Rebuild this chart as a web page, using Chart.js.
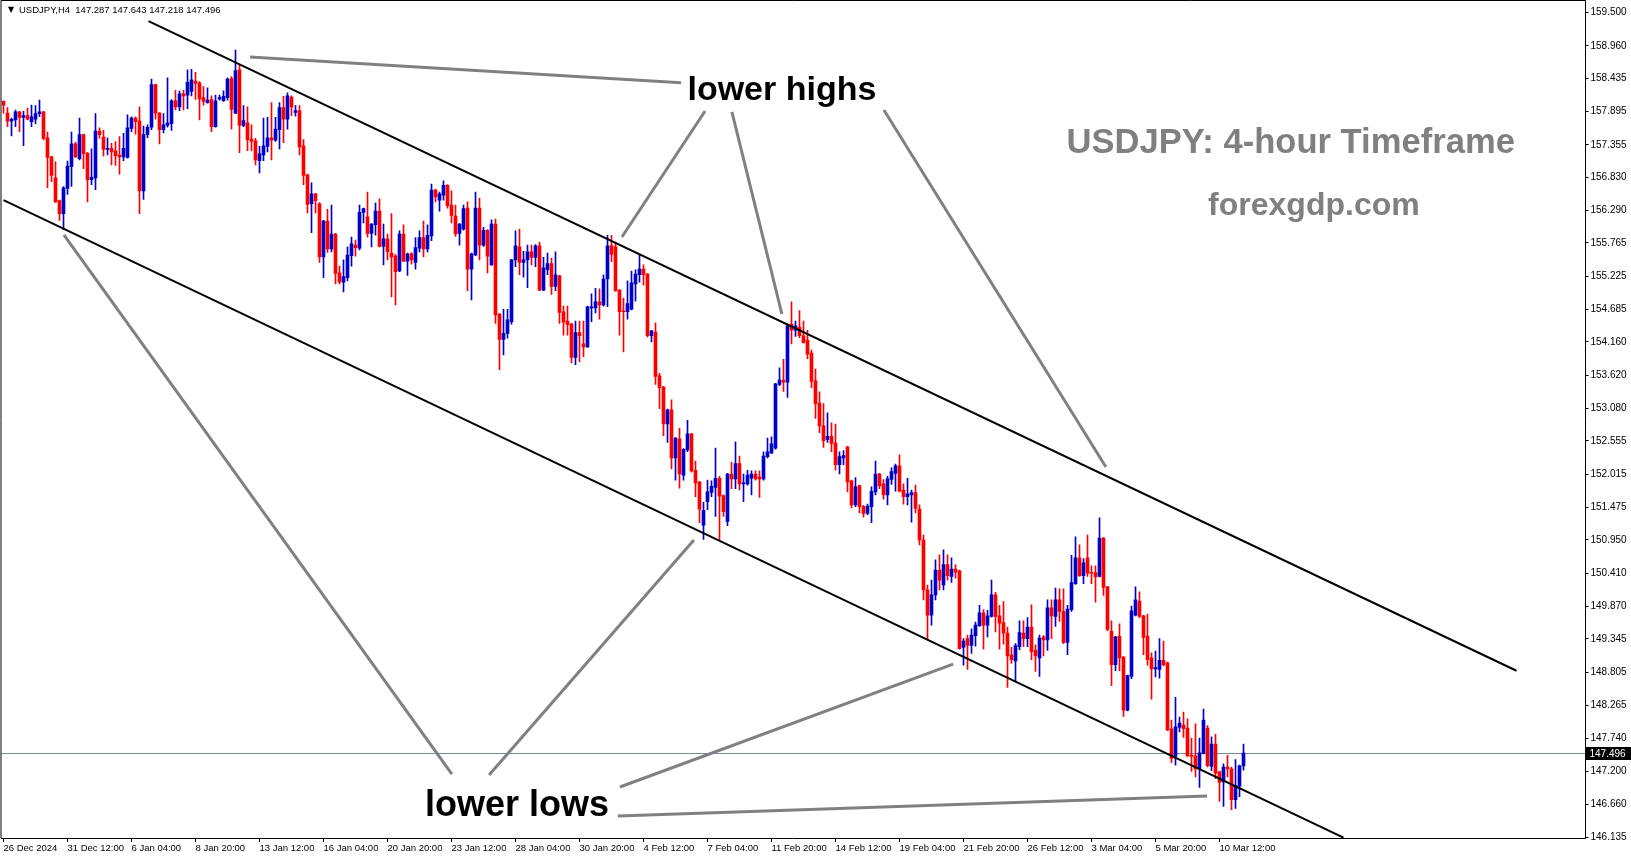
<!DOCTYPE html>
<html>
<head>
<meta charset="utf-8">
<script src="https://cdn.jsdelivr.net/npm/chart.js@4.4.1/dist/chart.umd.min.js"></script>
<style>
  html, body { margin: 0; padding: 0; background: #fff; }
  #wrap { width: 1631px; height: 861px; position: relative; }
</style>
</head>
<body>
<div id="wrap"><canvas id="chart"></canvas></div>
<script>
// --- USDJPY H4, 26 Dec 2024 -> 11 Mar 2025 (one entry per 4h candle) ---
const tickLabels = ['26 Dec 2024','31 Dec 12:00','6 Jan 04:00','8 Jan 20:00','13 Jan 12:00','16 Jan 04:00',
  '20 Jan 20:00','23 Jan 12:00','28 Jan 04:00','30 Jan 20:00','4 Feb 12:00','7 Feb 04:00','11 Feb 20:00',
  '14 Feb 12:00','19 Feb 04:00','21 Feb 20:00','26 Feb 12:00','3 Mar 04:00','5 Mar 20:00','10 Mar 12:00'];

const priceTicks = [159.500,158.960,158.435,157.895,157.355,156.830,156.290,155.765,155.225,154.685,154.160,
  153.620,153.080,152.555,152.015,151.475,150.950,150.410,149.870,149.345,148.805,148.265,147.740,147.200,
  146.660,146.135];

const opens = [
  158.06,157.87,157.74,157.76,157.89,157.80,157.83,157.73,157.77,157.86,
  157.89,157.47,157.16,156.82,156.45,156.24,156.65,157.00,157.37,157.13,
  157.52,157.22,156.79,156.82,157.58,157.48,157.28,157.30,157.26,157.19,
  157.16,157.15,157.62,157.79,157.74,156.61,157.52,157.64,158.33,157.87,
  157.60,157.67,157.70,158.07,157.97,158.18,158.16,158.22,158.39,158.36,
  158.12,158.04,158.09,157.65,158.10,158.07,158.12,158.43,157.87,158.57,
  157.67,157.71,157.45,157.42,157.10,157.19,157.33,157.47,157.43,157.60,
  157.96,157.77,158.13,157.88,157.91,157.34,156.87,156.40,156.56,156.40,
  155.54,156.12,155.67,155.91,155.28,155.13,155.20,155.56,155.73,155.68,
  156.26,156.19,155.92,156.06,156.28,155.71,155.83,155.60,155.55,155.31,
  155.91,155.47,155.59,155.45,155.68,155.85,155.67,155.88,156.62,156.46,
  156.54,156.70,156.38,156.20,155.92,155.99,156.33,155.34,155.57,156.33,
  155.73,155.97,155.41,156.07,154.61,154.20,154.30,154.49,155.49,155.70,
  155.45,155.49,155.62,155.53,155.72,155.00,155.33,155.43,155.06,155.23,
  154.65,154.50,154.45,153.91,154.31,154.13,154.08,154.71,154.71,154.81,
  154.76,155.18,155.72,155.70,155.00,154.66,154.65,154.69,155.10,155.25,
  155.34,155.26,154.26,154.32,153.61,153.43,152.83,153.06,152.28,152.59,
  152.00,152.41,152.67,152.08,151.89,151.19,151.57,151.72,151.80,151.95,
  151.67,151.25,152.02,151.94,152.19,151.86,151.86,151.95,152.02,151.97,
  151.94,152.30,152.36,152.44,153.47,153.54,153.51,154.45,154.35,154.40,
  154.26,154.19,153.98,153.53,153.17,152.80,152.58,152.63,152.52,152.17,
  152.28,152.46,151.91,151.52,151.83,151.49,151.38,151.49,151.73,152.02,
  151.86,151.68,151.93,152.03,152.15,151.76,151.65,151.68,151.72,151.45,
  150.95,150.14,149.73,150.06,150.46,150.22,150.55,150.36,150.48,150.45,
  149.21,149.35,149.24,149.40,149.56,149.77,149.57,149.71,150.06,149.72,
  149.61,149.44,149.09,148.99,149.22,149.44,149.35,149.54,149.16,149.04,
  149.38,149.33,149.85,149.71,149.98,149.79,149.29,149.82,150.24,150.66,
  150.37,150.66,150.42,150.42,150.36,150.98,150.19,149.47,148.93,149.39,
  149.05,148.19,148.74,149.73,149.96,149.72,149.39,149.04,148.86,148.85,
  149.00,148.96,147.89,147.44,147.91,147.95,147.90,147.46,147.45,147.24,
  147.49,147.90,147.28,147.64,147.19,147.03,147.27,147.24,146.74,146.96,
  147.287
];
const highs = [
  158.07,157.96,157.79,157.92,157.90,157.90,157.95,158.00,157.99,158.08,
  157.90,157.56,157.17,157.08,156.46,156.68,157.09,157.56,157.40,157.79,
  157.53,157.23,157.29,157.86,157.63,157.59,157.47,157.38,157.41,157.49,
  157.54,157.84,157.81,157.81,157.97,157.66,157.68,158.42,158.34,157.88,
  157.86,158.44,158.09,158.24,158.23,158.24,158.57,158.58,158.53,158.38,
  158.30,158.28,158.15,158.16,158.16,158.23,158.44,158.46,158.89,158.65,
  157.99,157.97,157.68,157.46,157.33,157.79,157.80,158.04,157.80,158.04,
  158.14,158.20,158.15,157.99,157.99,157.44,156.88,156.74,156.57,156.42,
  156.13,156.31,156.38,155.92,155.39,155.49,155.70,155.86,155.81,156.38,
  156.33,156.59,156.08,156.41,156.48,156.07,155.91,156.24,155.58,155.96,
  156.06,155.60,155.61,155.85,155.96,156.12,156.06,156.72,156.64,156.59,
  156.77,156.71,156.61,156.38,156.08,156.38,156.43,155.60,156.59,156.49,
  156.02,155.98,156.14,156.15,154.62,154.69,154.69,155.50,155.96,155.99,
  155.63,155.73,155.73,155.74,155.78,155.53,155.60,155.52,155.62,155.24,
  154.74,154.74,154.46,154.50,154.50,154.50,154.74,154.94,155.03,155.02,
  155.25,155.89,155.89,155.78,155.01,154.87,155.15,155.31,155.33,155.57,
  155.41,155.27,154.35,154.47,153.65,153.44,153.07,153.22,152.61,152.76,
  152.43,152.89,152.68,152.23,151.90,151.56,151.92,151.91,152.44,151.98,
  151.68,152.03,152.21,152.54,152.31,152.02,152.08,152.07,152.07,152.07,
  152.38,152.60,152.62,153.49,153.74,153.88,154.45,154.81,154.50,154.67,
  154.50,154.35,154.03,153.72,153.35,153.16,153.01,152.85,152.83,152.38,
  152.40,152.47,151.92,151.96,151.84,151.51,151.53,151.81,152.23,152.03,
  151.93,151.98,152.12,152.18,152.33,151.86,151.95,151.76,151.84,151.52,
  151.03,150.22,150.30,150.63,150.71,150.79,150.71,150.66,150.55,150.46,
  149.35,149.41,149.51,149.62,149.89,149.82,149.81,150.30,150.10,149.89,
  149.95,149.54,149.21,149.27,149.64,149.64,149.69,149.90,149.25,149.41,
  149.40,149.98,149.98,150.17,150.16,150.16,149.89,150.70,151.00,150.87,
  150.65,151.03,150.53,150.53,151.31,150.99,150.20,149.64,149.39,149.59,
  149.06,148.76,149.88,150.19,150.11,149.73,149.75,149.12,149.15,149.35,
  149.31,148.97,148.03,148.40,148.08,148.16,148.05,147.74,147.97,147.74,
  148.21,147.94,147.76,147.80,147.20,147.32,147.46,147.27,147.39,147.30,
  147.643
];
const lows = [
  157.87,157.65,157.50,157.65,157.57,157.34,157.76,157.65,157.70,157.81,
  157.44,156.66,156.76,156.42,156.13,155.98,156.55,156.68,157.15,157.11,
  156.97,156.43,156.71,156.63,157.46,157.17,157.19,157.03,157.02,156.88,
  157.10,157.14,157.57,157.53,156.24,156.47,157.47,157.60,157.77,157.37,
  157.55,157.64,157.59,157.92,157.91,157.92,157.94,158.15,158.09,157.76,
  158.00,158.03,157.57,157.64,158.08,158.06,158.08,157.61,157.86,157.23,
  157.65,157.26,157.26,157.03,156.90,157.10,157.24,157.11,157.41,157.29,
  157.39,157.61,157.83,157.82,157.19,156.71,156.25,155.93,156.25,155.45,
  155.20,155.61,155.62,155.10,155.10,154.97,155.15,155.39,155.55,155.65,
  156.09,155.86,155.70,155.89,155.70,155.41,155.49,154.89,154.76,155.30,
  155.46,155.24,155.42,155.34,155.62,155.54,155.62,155.80,156.43,156.28,
  156.46,156.33,156.09,155.87,155.73,155.97,154.99,154.84,155.56,155.49,
  155.71,155.28,155.40,154.46,153.71,153.95,154.22,154.45,155.38,155.25,
  155.21,155.04,155.41,155.38,154.99,154.99,155.25,154.93,154.99,154.46,
  154.27,154.27,153.82,153.79,153.84,153.92,154.07,154.49,154.63,154.53,
  154.74,154.73,155.46,154.98,154.27,154.00,154.53,154.68,154.82,155.13,
  155.08,154.24,154.16,153.47,153.08,152.64,152.53,152.10,151.92,151.79,
  151.92,152.38,152.05,151.65,151.23,150.96,151.44,151.65,151.33,150.96,
  151.33,151.18,151.78,151.78,151.76,151.57,151.84,151.68,151.92,151.64,
  151.92,152.28,152.35,152.42,153.45,153.36,153.26,154.13,154.25,154.23,
  154.14,153.89,153.42,152.92,152.69,152.45,152.53,152.38,152.08,152.02,
  152.17,151.73,151.47,151.49,151.39,151.32,151.36,151.23,151.68,151.78,
  151.61,151.52,151.85,151.74,151.73,151.53,151.52,151.24,151.39,150.87,
  149.98,149.33,149.57,149.98,150.14,150.14,150.30,150.26,150.33,149.18,
  148.92,148.85,149.11,149.23,149.55,149.18,149.38,149.70,149.46,149.18,
  149.26,148.56,148.95,148.67,149.17,149.22,149.22,149.01,148.82,148.74,
  149.07,149.16,149.35,149.55,149.63,149.27,149.09,149.79,150.23,150.36,
  150.24,150.36,150.24,149.94,150.35,150.05,149.48,148.59,148.83,148.83,
  148.09,148.18,148.70,149.72,149.69,149.09,148.92,148.37,148.73,148.71,
  148.91,147.86,147.34,147.30,147.84,147.75,147.44,147.20,147.11,146.94,
  147.48,147.27,147.21,147.08,146.71,146.63,147.11,146.58,146.60,146.79,
  147.218
];
const closes = [
  158.00,157.74,157.77,157.89,157.80,157.83,157.77,157.81,157.86,157.89,
  157.46,157.15,156.86,156.43,156.24,156.66,157.01,157.37,157.16,157.52,
  157.21,156.79,156.83,157.58,157.52,157.28,157.30,157.24,157.18,157.16,
  157.30,157.63,157.79,157.73,156.61,157.52,157.64,158.33,157.87,157.60,
  157.68,157.71,158.07,157.97,158.18,158.15,158.37,158.41,158.35,158.10,
  158.06,158.08,157.65,158.07,158.12,158.14,158.42,157.93,158.56,157.67,
  157.75,157.44,157.41,157.11,157.21,157.34,157.47,157.43,157.61,157.96,
  157.77,158.15,157.97,157.91,157.32,156.86,156.39,156.56,156.45,155.54,
  156.12,155.67,155.91,155.27,155.13,155.22,155.57,155.75,155.69,156.26,
  156.32,155.92,156.07,156.28,155.71,155.83,155.62,155.54,155.30,155.91,
  155.47,155.59,155.49,155.69,155.85,155.67,155.89,156.62,156.51,156.56,
  156.70,156.37,156.21,155.91,156.07,156.32,155.34,155.59,156.33,155.73,
  155.97,155.55,156.07,154.60,154.20,154.30,154.52,155.49,155.72,155.45,
  155.49,155.62,155.53,155.72,155.00,155.36,155.43,155.06,155.25,154.64,
  154.48,154.44,153.91,154.31,154.26,154.08,154.73,154.73,154.81,154.76,
  155.18,155.72,155.58,154.99,154.65,154.65,154.78,155.12,155.26,155.34,
  155.25,154.26,154.34,153.60,153.42,152.83,153.06,152.28,152.60,152.02,
  152.42,152.67,152.07,151.87,151.45,151.43,151.73,151.82,151.95,151.66,
  151.41,152.02,151.94,152.19,151.86,151.87,152.00,152.02,151.94,151.94,
  152.31,152.38,152.51,153.48,153.54,153.51,154.42,154.35,154.42,154.26,
  154.15,153.96,153.52,153.16,152.80,152.56,152.63,152.51,152.17,152.30,
  152.32,151.89,151.52,151.81,151.49,151.38,151.50,151.74,152.02,151.83,
  151.68,151.94,152.06,152.15,151.74,151.65,151.70,151.72,151.46,150.95,
  150.14,149.73,150.06,150.46,150.30,150.55,150.37,150.48,150.43,149.19,
  149.31,149.24,149.41,149.57,149.77,149.57,149.72,150.06,149.71,149.60,
  149.44,149.07,149.01,149.24,149.45,149.35,149.54,149.14,149.07,149.36,
  149.33,149.85,149.72,149.98,149.79,149.29,149.83,150.26,150.66,150.37,
  150.58,150.41,150.41,150.35,150.98,150.18,149.50,148.93,149.38,149.04,
  148.19,148.75,149.80,149.98,149.71,149.37,149.01,148.86,148.88,149.00,
  148.93,147.87,147.41,147.92,147.98,147.89,147.45,147.44,147.24,147.50,
  148.03,147.29,147.64,147.17,147.02,147.27,147.24,146.74,146.97,147.29,
  147.496
];

// drawn objects (candle index, price)
const channelLines = [
  [36.25, 159.36, 378.25, 148.83],
  [0, 156.46, 335, 146.125]
];
const pointerLines = [
  [61.6, 158.779, 169.4, 158.36],
  [175.4, 157.904, 154.6, 155.861],
  [182.1, 157.888, 194.6, 154.613],
  [220.1, 157.920, 275.6, 152.133],
  [15.1, 155.894, 112.1, 147.156],
  [121.4, 147.140, 172.6, 150.950],
  [154.1, 146.946, 237.4, 148.939],
  [153.6, 146.475, 300.9, 146.800]
];
const notes = [
  { text: 'lower highs', idx: 194.6, price: 158.075, font: 'bold 34px "Liberation Sans", Arial, sans-serif', color: '#000' },
  { text: 'lower lows', idx: 128.4, price: 146.47, font: 'bold 36px "Liberation Sans", Arial, sans-serif', color: '#000' },
  { text: 'USDJPY: 4-hour Timeframe', idx: 321.8, price: 157.22, font: 'bold 34.6px "Liberation Sans", Arial, sans-serif', color: '#808080' },
  { text: 'forexgdp.com', idx: 327.6, price: 156.215, font: 'bold 32px "Liberation Sans", Arial, sans-serif', color: '#808080' }
];

const SLOTS = 396;      // chart keeps empty space on the right (chart shift)
const TICK_STEP = 16;
const BLUE = '#0000cd', RED = '#ff0000';
const FONT = '"Liberation Sans", "DejaVu Sans", sans-serif';

const slotLabels = Array.from({ length: SLOTS }, (_, i) =>
  (i % TICK_STEP === 0 && tickLabels[i / TICK_STEP]) || '');
const tickIdx = tickLabels.map((_, i) => i * TICK_STEP);
const candleColors = closes.map((c, i) => (c >= opens[i] ? BLUE : RED));
const wickData = highs.map((h, i) => [lows[i], h]);
const bodyData = opens.map((o, i) => [o, closes[i]]);
const last = closes.length - 1;

const overlay = {
  id: 'overlay',
  beforeDatasetsDraw(chart) {
    const { ctx, chartArea: a, scales: { y } } = chart;
    const py = Math.round(y.getPixelForValue(closes[last])) + 0.5;
    ctx.save();
    ctx.strokeStyle = '#778899';
    ctx.lineWidth = 1;
    ctx.beginPath(); ctx.moveTo(a.left, py); ctx.lineTo(a.right, py); ctx.stroke();
    ctx.restore();
  },
  afterDatasetsDraw(chart) {
    const { ctx, chartArea: a, scales: { x, y } } = chart;
    ctx.save();
    ctx.beginPath(); ctx.rect(a.left, a.top, a.right - a.left, a.bottom - a.top); ctx.clip();
    const seg = (l, color, w) => {
      ctx.strokeStyle = color; ctx.lineWidth = w; ctx.lineCap = 'butt';
      ctx.beginPath();
      ctx.moveTo(x.getPixelForValue(l[0]), y.getPixelForValue(l[1]));
      ctx.lineTo(x.getPixelForValue(l[2]), y.getPixelForValue(l[3]));
      ctx.stroke();
    };
    channelLines.forEach(l => seg(l, '#000', 2));
    pointerLines.forEach(l => seg(l, '#808080', 3));
    ctx.textAlign = 'center';
    ctx.textBaseline = 'alphabetic';
    for (const n of notes) {
      ctx.font = n.font; ctx.fillStyle = n.color;
      ctx.fillText(n.text, x.getPixelForValue(n.idx), y.getPixelForValue(n.price));
    }
    ctx.restore();
  },
  afterDraw(chart) {
    const { ctx, chartArea: a, scales: { y } } = chart;
    ctx.save();
    // frame
    ctx.strokeStyle = '#000'; ctx.lineWidth = 1;
    ctx.beginPath();
    ctx.moveTo(a.left - 0.5, a.bottom); ctx.lineTo(a.left - 0.5, 0.5); ctx.lineTo(a.right, 0.5);
    ctx.stroke();
    // bid label on the price axis
    const py = Math.round(y.getPixelForValue(closes[last]));
    ctx.fillStyle = '#000';
    ctx.fillRect(a.right, py - 6, chart.width - a.right, 13);
    ctx.fillStyle = '#fff';
    ctx.font = '10px ' + FONT;
    ctx.textBaseline = 'middle';
    ctx.fillText(closes[last].toFixed(3), a.right + 4, py + 1);
    // header
    ctx.fillStyle = '#000';
    ctx.font = '8px "DejaVu Sans", sans-serif';
    ctx.fillText('\u25BC', 8, 10);
    ctx.font = '9.5px ' + FONT;
    const hdr = 'USDJPY,H4  ' + [opens[last], highs[last], lows[last], closes[last]].map(v => v.toFixed(3)).join(' ');
    ctx.fillText(hdr, 19, 10);
    ctx.restore();
  }
};

new Chart(document.getElementById('chart'), {
  type: 'bar',
  data: {
    labels: slotLabels,
    datasets: [
      { data: bodyData, backgroundColor: candleColors, barThickness: 3, minBarLength: 1, grouped: false, order: 1, borderWidth: 0 },
      { data: wickData, backgroundColor: candleColors, barThickness: 1, grouped: false, order: 2, borderWidth: 0 }
    ]
  },
  options: {
    responsive: true,
    maintainAspectRatio: false,
    animation: false,
    devicePixelRatio: 1,
    layout: { padding: { left: 1.5, top: 0, right: 0, bottom: 0 } },
    plugins: { legend: { display: false }, tooltip: { enabled: false } },
    scales: {
      x: {
        type: 'category',
        offset: true,
        grid: { drawOnChartArea: false, drawTicks: true, tickLength: 4, offset: false, color: '#000' },
        border: { display: true, color: '#000' },
        ticks: { autoSkip: false, maxRotation: 0, minRotation: 0, align: 'start', padding: 1, color: '#000', font: { family: FONT, size: 9.5 } },
        afterBuildTicks: s => { s.ticks = tickIdx.map(v => ({ value: v })); },
        afterFit: s => { s.height = 23; s.paddingLeft = 0; s.paddingRight = 0; }
      },
      y: {
        type: 'linear',
        position: 'right',
        min: 146.119,
        max: 159.703,
        grid: { drawOnChartArea: false, drawTicks: true, tickLength: 3, color: '#000' },
        border: { display: true, color: '#000' },
        ticks: { autoSkip: false, padding: 2, color: '#000', font: { family: FONT, size: 10 }, callback: v => v.toFixed(3) },
        afterBuildTicks: s => { s.ticks = priceTicks.map(v => ({ value: v })); },
        afterFit: s => { s.width = 45.5; s.paddingTop = 0; s.paddingBottom = 0; }
      }
    }
  },
  plugins: [overlay]
});
</script>
</body>
</html>
